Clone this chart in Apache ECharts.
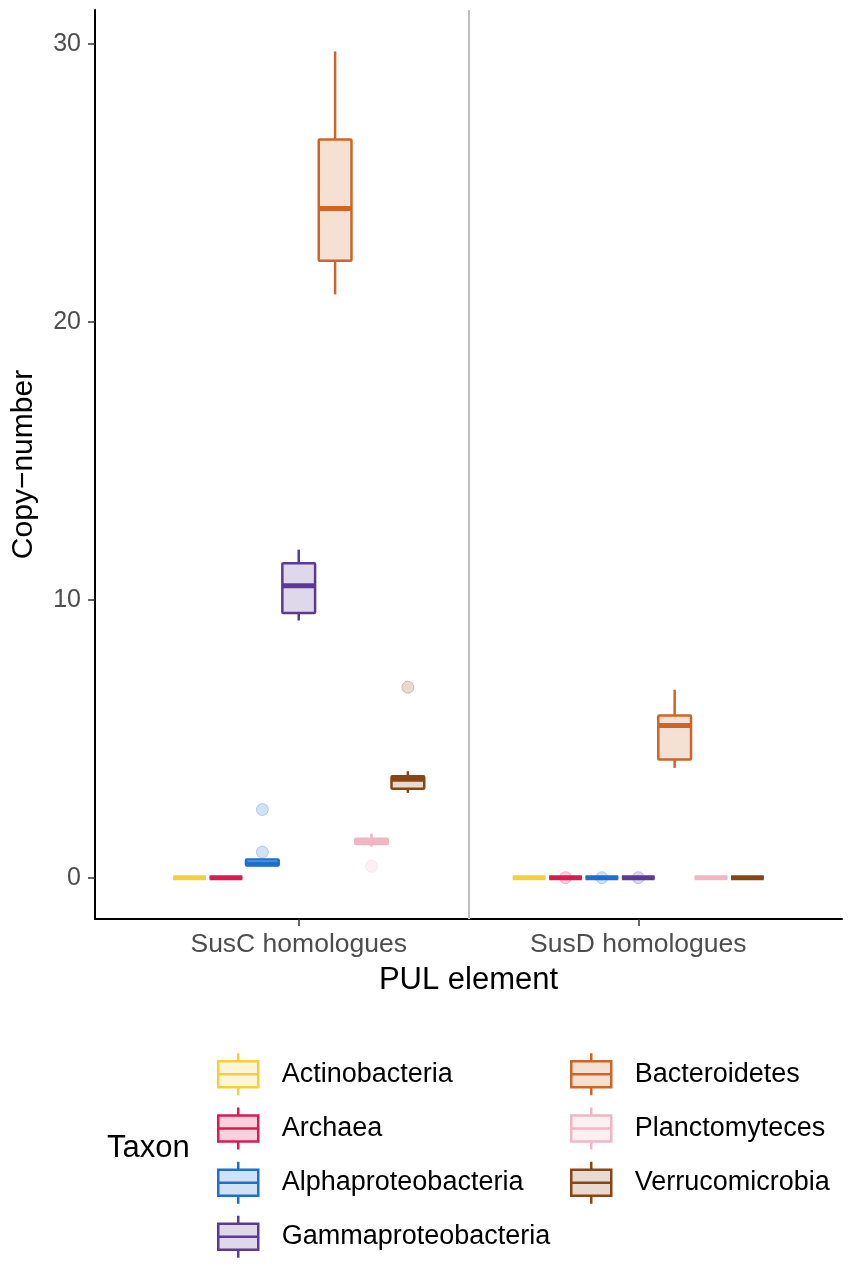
<!DOCTYPE html>
<html>
<head>
<meta charset="UTF-8">
<title>SusC / SusD copy-number by taxon</title>
<style>
  html, body { margin: 0; padding: 0; background: #fff; }
  #chart { width: 851px; height: 1265px; }
</style>
</head>
<body>
<div id="chart"></div>
<script src="https://cdn.jsdelivr.net/npm/echarts@6/dist/echarts.min.js"></script>
<script>
// categories on the x axis and taxa (dodge order = legend order)
var categories = ['SusC homologues', 'SusD homologues'];
var taxa = ['Actinobacteria', 'Archaea', 'Alphaproteobacteria', 'Gammaproteobacteria',
            'Bacteroidetes', 'Planctomyteces', 'Verrucomicrobia'];
var colors = ['#F5CF3A', '#DC1A52', '#1C6FCC', '#5B3A94', '#CD6529', '#F2B5C4', '#8A4514'];
var yTicks = [0, 10, 20, 30];

// box stats per taxon: [min, Q1, median, Q3, max], one row per category
var actinobacteria      = [[0, 0, 0, 0, 0], [0, 0, 0, 0, 0]];
var archaea             = [[0, 0, 0, 0, 0], [0, 0, 0, 0, 0]];
var alphaproteobacteria = [[0.44, 0.44, 0.5, 0.65, 0.65], [0, 0, 0, 0, 0]];
var gammaproteobacteria = [[9.25, 9.52, 10.5, 11.31, 11.8], [0, 0, 0, 0, 0]];
var bacteroidetes       = [[20.98, 22.19, 24.07, 26.55, 29.72], [3.95, 4.25, 5.47, 5.83, 6.76]];
var planctomyteces      = [[1.12, 1.21, 1.3, 1.4, 1.58], [0, 0, 0, 0, 0]];
var verrucomicrobia     = [[3.05, 3.2, 3.54, 3.65, 3.83], [0, 0, 0, 0, 0]];
var boxStats = [actinobacteria, archaea, alphaproteobacteria, gammaproteobacteria,
                bacteroidetes, planctomyteces, verrucomicrobia];

// outliers per taxon: [category index, value]
var outActino = [];
var outArchaea = [[1, 0]];
var outAlpha = [[0, 2.45], [0, 0.92], [1, 0]];
var outGamma = [[1, 0]];
var outBacteroidetes = [];
var outPlancto = [[0, 0.41]];
var outVerruco = [[0, 6.85]];
var outliers = [outActino, outArchaea, outAlpha, outGamma, outBacteroidetes, outPlancto, outVerruco];

var FONT = "'Liberation Sans', Arial, Helvetica, sans-serif";
var slot = 0.75 / taxa.length;   // dodge width per taxon (x units)
var boxW = slot * 0.9;
var LW = 2.5;                    // box outline width

function xPos(cat, i) { return cat + 1 + (i - (taxa.length - 1) / 2) * slot; }

function rgba(hex, a) {
  var n = parseInt(hex.slice(1), 16);
  return 'rgba(' + (n >> 16) + ',' + ((n >> 8) & 255) + ',' + (n & 255) + ',' + a + ')';
}

function boxRenderer(color) {
  var fill = rgba(color, 0.2);
  return function (params, api) {
    var x = api.value(0);
    var lo = api.coord([x, api.value(1)]);
    var q1 = api.coord([x, api.value(2)]);
    var md = api.coord([x, api.value(3)]);
    var q3 = api.coord([x, api.value(4)]);
    var hi = api.coord([x, api.value(5)]);
    var w = api.size([boxW, 0])[0];
    return {
      type: 'group',
      children: [
        { type: 'line', shape: { x1: hi[0], y1: hi[1], x2: q3[0], y2: q3[1] }, style: { stroke: color, lineWidth: LW } },
        { type: 'line', shape: { x1: q1[0], y1: q1[1], x2: lo[0], y2: lo[1] }, style: { stroke: color, lineWidth: LW } },
        { type: 'rect', shape: { x: q3[0] - w / 2, y: q3[1], width: w, height: q1[1] - q3[1], r: 1 },
          style: { fill: fill, stroke: color, lineWidth: LW } },
        { type: 'line', shape: { x1: md[0] - w / 2, y1: md[1], x2: md[0] + w / 2, y2: md[1] },
          style: { stroke: color, lineWidth: 5 } }
      ]
    };
  };
}

var series = [];
taxa.forEach(function (name, i) {
  series.push({
    name: name,
    type: 'custom',
    renderItem: boxRenderer(colors[i]),
    encode: { x: 0, y: [1, 2, 3, 4, 5] },
    itemStyle: { color: rgba(colors[i], 0.2), borderColor: colors[i], borderWidth: 2 },
    data: boxStats[i].map(function (s, c) { return [xPos(c, i)].concat(s); }),
    z: 3
  });
  series.push({
    name: name,
    type: 'scatter',
    symbolSize: 12,
    itemStyle: { color: rgba(colors[i], 0.25), borderColor: rgba(colors[i], 0.35), borderWidth: 1 },
    data: outliers[i].map(function (o) { return [xPos(o[0], i), o[1]]; }),
    z: 4
  });
});

// vertical separator between the two PUL elements
series.push({
  type: 'scatter',
  data: [],
  silent: true,
  markLine: {
    silent: true,
    symbol: 'none',
    label: { show: false },
    lineStyle: { color: '#BEBEBE', width: 2, type: 'solid' },
    data: [{ xAxis: 1.5 }]
  },
  z: 1
});

var keyIcon = 'path://M1,8 L41,8 L41,34 L1,34 Z M21,0 L21,8 M21,34 L21,42 M1,21 L41,21';

function legendItems(from, to) {
  return taxa.slice(from, to).map(function (name, k) {
    var c = colors[from + k];
    return { name: name, icon: keyIcon,
             itemStyle: { color: rgba(c, 0.2), borderColor: c, borderWidth: 2.5 } };
  });
}

var legendText = { fontSize: 27, color: '#000', fontFamily: FONT, padding: [0, 0, 0, 18] };

var option = {
  animation: false,
  backgroundColor: '#fff',
  textStyle: { fontFamily: FONT },
  title: {
    text: 'Taxon', left: 107, top: 1133, padding: 0,
    textStyle: { fontSize: 31, fontWeight: 'normal', color: '#000', fontFamily: FONT }
  },
  legend: [
    { orient: 'vertical', left: 217, top: 1052, padding: 0, itemWidth: 41, itemHeight: 42, itemGap: 9.7,
      data: legendItems(0, 4), textStyle: legendText },
    { orient: 'vertical', left: 570, top: 1052, padding: 0, itemWidth: 41, itemHeight: 42, itemGap: 9.7,
      data: legendItems(4, 7), textStyle: legendText }
  ],
  grid: { left: 95, right: 9, top: 10, bottom: 346, containLabel: false, outerBoundsMode: 'none' },
  xAxis: {
    type: 'value',
    min: 0.4,
    max: 2.6,
    name: 'PUL element',
    nameLocation: 'middle',
    nameGap: 46,
    nameTextStyle: { fontSize: 31, color: '#000', fontFamily: FONT },
    axisLine: { onZero: false, lineStyle: { color: '#000', width: 2 } },
    axisTick: { show: true, length: 7, customValues: [1, 2], lineStyle: { color: '#333', width: 1.5 } },
    axisLabel: {
      customValues: [1, 2], margin: 12, fontSize: 26.5, color: '#4D4D4D', fontFamily: FONT,
      formatter: function (v) { return categories[Math.round(v) - 1]; }
    },
    splitLine: { show: false }
  },
  yAxis: {
    type: 'value',
    min: -1.486,
    max: 31.21,
    name: 'Copy\u2212number',
    nameLocation: 'middle',
    nameRotate: 90,
    nameGap: 56,
    nameTextStyle: { fontSize: 30, color: '#000', fontFamily: FONT },
    axisLine: { show: true, onZero: false, lineStyle: { color: '#000', width: 2 } },
    axisTick: { show: true, length: 7, customValues: yTicks, lineStyle: { color: '#333', width: 1.5 } },
    axisLabel: { customValues: yTicks, margin: 14, fontSize: 25, color: '#4D4D4D', fontFamily: FONT },
    splitLine: { show: false }
  },
  series: series
};

var chart = echarts.init(document.getElementById('chart'));
chart.setOption(option);
</script>
</body>
</html>
